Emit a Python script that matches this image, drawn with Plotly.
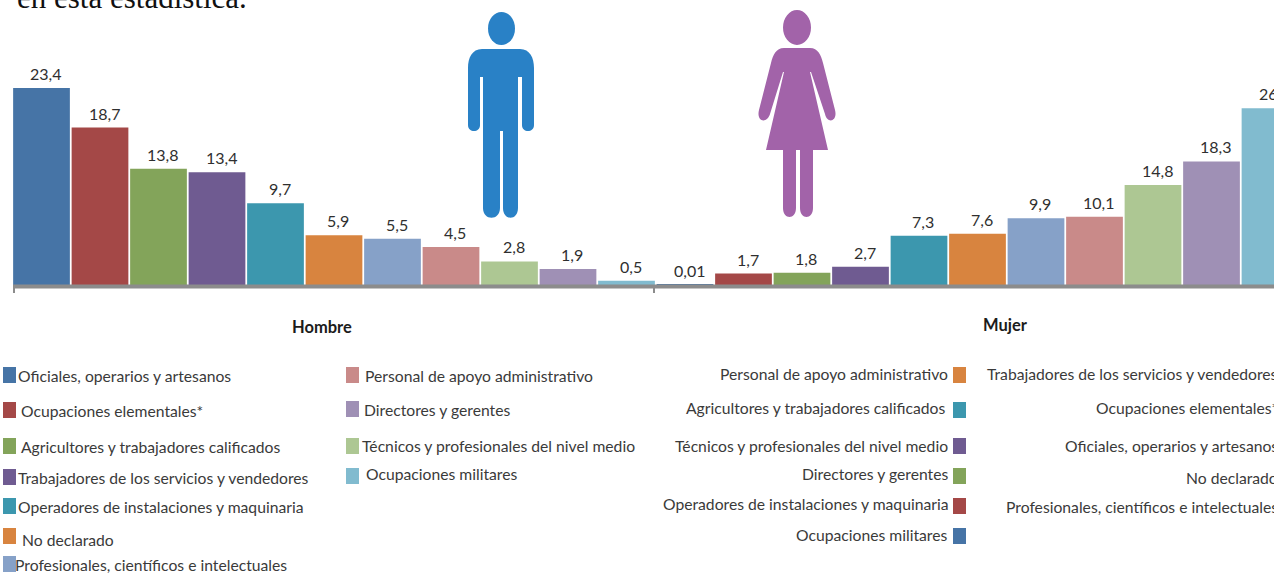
import re
import plotly.graph_objects as go

W, H = 1274, 573
FONT = "Lato"
TEXT = "#3a3a3a"

C_BLUE, C_RED, C_GREEN, C_PURPLE, C_TEAL, C_ORANGE = "#4674A6", "#A44847", "#83A45A", "#6F5B91", "#3C97AE", "#D8843F"
C_LBLUE, C_PINK, C_LGREEN, C_LILAC, C_CYAN = "#86A1C8", "#C98A89", "#ADC793", "#9F90B5", "#81BBCF"

hombre_values = [23.4, 18.7, 13.8, 13.4, 9.7, 5.9, 5.5, 4.5, 2.8, 1.9, 0.5]
mujer_values = [0.01, 1.7, 1.8, 2.7, 7.3, 7.6, 9.9, 10.1, 14.8, 18.3, 26.2]
bar_colors = [C_BLUE, C_RED, C_GREEN, C_PURPLE, C_TEAL, C_ORANGE, C_LBLUE, C_PINK, C_LGREEN, C_LILAC, C_CYAN]

legend_hombre_1 = ["Oficiales, operarios y artesanos", "Ocupaciones elementales*", "Agricultores y trabajadores calificados",
                   "Trabajadores de los servicios y vendedores", "Operadores de instalaciones y maquinaria",
                   "No declarado", "Profesionales, científicos e intelectuales"]
legend_hombre_2 = ["Personal de apoyo administrativo", "Directores y gerentes",
                   "Técnicos y profesionales del nivel medio", "Ocupaciones militares"]
legend_mujer_1 = ["Personal de apoyo administrativo", "Agricultores y trabajadores calificados",
                  "Técnicos y profesionales del nivel medio", "Directores y gerentes",
                  "Operadores de instalaciones y maquinaria", "Ocupaciones militares"]
legend_mujer_2 = ["Trabajadores de los servicios y vendedores", "Ocupaciones elementales*",
                  "Oficiales, operarios y artesanos", "No declarado", "Profesionales, científicos e intelectuales"]

# layout (pixel) helpers
def px(x): return x / W
def py(y): return 1 - y / H
def path(s):
    return re.sub(r"(-?[\d.]+),(-?[\d.]+)", lambda m: f"{px(float(m[1])):.5f},{py(float(m[2])):.5f}", s)

BASE = 285
PITCH = 58.5
SCALE_H, SCALE_M = 8.42, 6.75

x_h = list(range(11))
x_m = list(range(11, 22))

fig = go.Figure()
fig.add_bar(x=x_h, y=hombre_values, marker=dict(color=bar_colors, line_width=0), width=0.97, yaxis="y", showlegend=False)
fig.add_bar(x=x_m, y=mujer_values, marker=dict(color=bar_colors, line_width=0), width=0.97, yaxis="y2", showlegend=False)

ann = []
for xs, vals, yref in ((x_h, hombre_values, "y"), (x_m, mujer_values, "y2")):
    for x, v in zip(xs, vals):
        ann.append(dict(x=x, y=v, xref="x", yref=yref, text=str(v).replace(".", ","), showarrow=False,
                        yanchor="bottom", xanchor="center", xshift=4, yshift=5, borderpad=0, borderwidth=0,
                        font=dict(family=FONT, size=16, color="#2f2f2f")))

def label(x, y, text, anchor="left", size=15.7, color=TEXT, family=FONT):
    ann.append(dict(x=px(x), y=py(y), xref="paper", yref="paper", text=text, showarrow=False,
                    xanchor=anchor, yanchor="middle", borderpad=0, borderwidth=0,
                    font=dict(family=family, size=size, color=color)))

shapes = []
def swatch(x0, y0, color):
    shapes.append(dict(type="rect", xref="paper", yref="paper", x0=px(x0), x1=px(x0 + 13),
                       y0=py(y0), y1=py(y0 + 16), fillcolor=color, line_width=0))

# clipped sentence at the top
label(17, -3, "en esta estadística.", size=31, color="#111111", family="Liberation Serif")
label(322, 327, "<b>Hombre</b>", "center", 16.5, "#1c1c1c")
label(1005, 325, "<b>Mujer</b>", "center", 16.5, "#1c1c1c")

h1_sw = [367, 402, 438, 469, 498, 528, 556]
h1_tx = [(18, 376), (21, 411), (21, 447), (18, 478), (18, 507), (22, 540), (15, 565)]
h1_col = [C_BLUE, C_RED, C_GREEN, C_PURPLE, C_TEAL, C_ORANGE, C_LBLUE]
for t, s, (x, y), c in zip(legend_hombre_1, h1_sw, h1_tx, h1_col):
    swatch(3, s, c); label(x, y, t)

h2_sw = [367, 401, 438, 468]
h2_tx = [(365, 376), (364, 410), (362, 446), (366, 474)]
h2_col = [C_PINK, C_LILAC, C_LGREEN, C_CYAN]
for t, s, (x, y), c in zip(legend_hombre_2, h2_sw, h2_tx, h2_col):
    swatch(346, s, c); label(x, y, t)

m1_sw = [367, 402, 438, 468, 498, 528]
m1_tx = [(948, 374), (945, 408), (948, 446), (948, 474), (948, 504), (948, 535)]
m1_col = [C_ORANGE, C_TEAL, C_PURPLE, C_GREEN, C_RED, C_BLUE]
for t, s, (x, y), c in zip(legend_mujer_1, m1_sw, m1_tx, m1_col):
    swatch(953, s, c); label(x, y, t, "right")

m2_y = [374, 408, 446, 478, 507]
for t, y in zip(legend_mujer_2, m2_y):
    label(1278, y, t, "right")

# baseline and end ticks
GRAY = "#8c8c8c"
shapes += [
    dict(type="line", xref="paper", yref="paper", x0=px(13), x1=px(1274), y0=py(286.5), y1=py(286.5), line=dict(color=GRAY, width=4)),
    dict(type="line", xref="paper", yref="paper", x0=px(14), x1=px(14), y0=py(287), y1=py(293), line=dict(color=GRAY, width=2)),
    dict(type="line", xref="paper", yref="paper", x0=px(654), x1=px(654), y0=py(287), y1=py(293), line=dict(color=GRAY, width=2)),
]

# pictograms
MAN = "#2981C6"
WOMAN = "#A263A9"
shapes.append(dict(type="circle", xref="paper", yref="paper", x0=px(488), x1=px(515), y0=py(12), y1=py(45), fillcolor=MAN, line_width=0))
shapes.append(dict(type="path", xref="paper", yref="paper", fillcolor=MAN, line_width=0, path=path(
    "M482,49 L520,49 C530,49 534,58 534,68 L534,125 C534,133 522,133 522,125 L522,77 L518,77 L518,208 "
    "C518,221 503,221 503,208 L503,131 L500,131 L500,208 C500,221 483,221 483,208 L483,77 L480,77 L480,125 "
    "C480,133 468,133 468,125 L468,68 C468,58 472,49 482,49 Z")))
shapes.append(dict(type="circle", xref="paper", yref="paper", x0=px(783), x1=px(811), y0=py(10), y1=py(45), fillcolor=WOMAN, line_width=0))
shapes.append(dict(type="path", xref="paper", yref="paper", fillcolor=WOMAN, line_width=0, path=path(
    "M784,48 L810,48 C818,48 821,55 823,63 L835,110 C838,122 827,124 825,114 L811,72 L810,72 L828,150 L813,150 "
    "L813,208 C813,220 800,220 800,208 L800,150 L796,150 L796,208 C796,220 783,220 783,208 L783,150 L766,150 "
    "L784,72 L783,72 L770,114 C767,124 756,122 759,110 L771,63 C773,55 776,48 784,48 Z")))

fig.update_layout(
    width=W, height=H, margin=dict(l=0, r=0, t=0, b=0), autosize=False,
    paper_bgcolor="white", plot_bgcolor="white", barmode="overlay", showlegend=False,
    xaxis=dict(range=[-41.5 / PITCH, (W - 41.5) / PITCH], domain=[0, 1], visible=False, fixedrange=True),
    yaxis=dict(range=[0, BASE / SCALE_H], domain=[py(BASE), 1], visible=False, fixedrange=True),
    yaxis2=dict(range=[0, BASE / SCALE_M], domain=[py(BASE), 1], overlaying="y", visible=False, fixedrange=True),
    annotations=ann, shapes=shapes,
)
fig.write_html("out.html", config=dict(displayModeBar=False),
               post_script="document.body.style.margin='0';document.documentElement.style.overflow='hidden';")
